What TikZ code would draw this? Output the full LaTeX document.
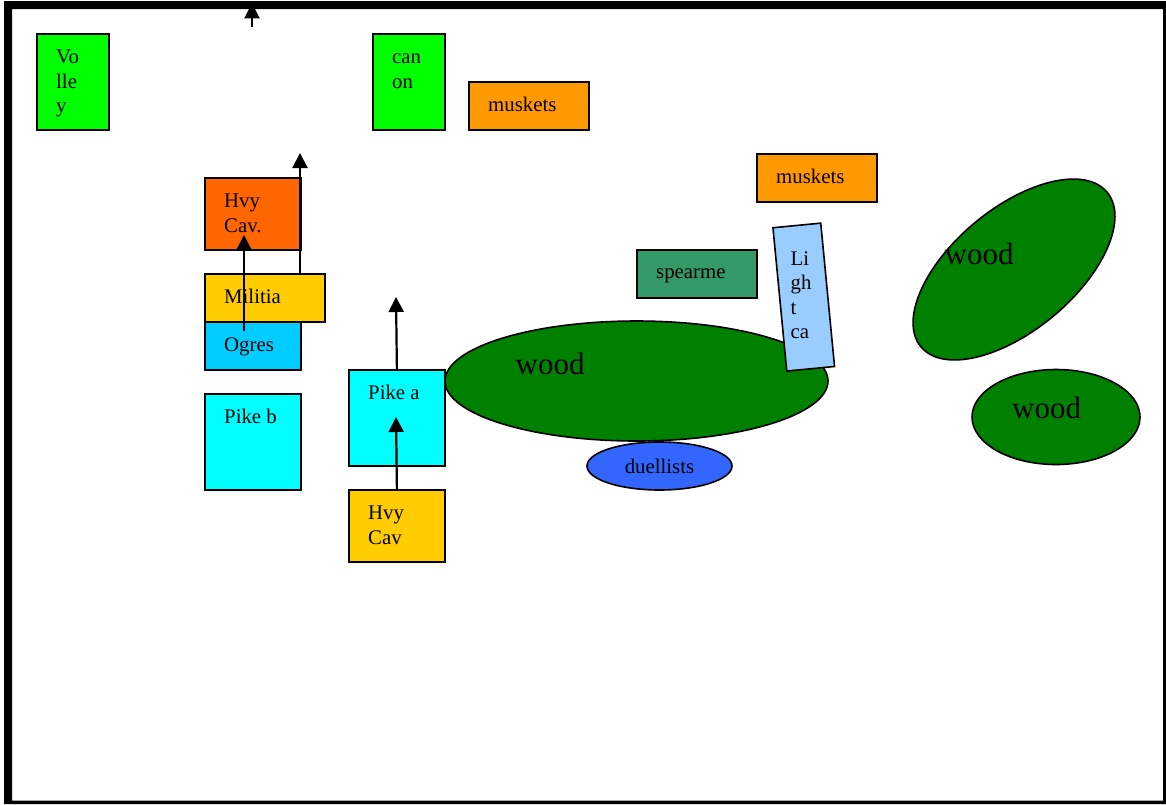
\documentclass[tikz,border=0pt]{standalone}
\usepackage{fontspec}
\setmainfont{Liberation Serif}
\usetikzlibrary{shapes.geometric,arrows.meta}
\definecolor{volleygreen}{HTML}{00FF00}
\definecolor{musketorange}{HTML}{FF9900}
\definecolor{cavorange}{HTML}{FF6600}
\definecolor{militiayellow}{HTML}{FFCC00}
\definecolor{ogreblue}{HTML}{00CCFF}
\definecolor{pikecyan}{HTML}{00FFFF}
\definecolor{woodgreen}{HTML}{008000}
\definecolor{duelblue}{HTML}{3366FF}
\definecolor{speargreen}{HTML}{339966}
\definecolor{lightblue}{HTML}{99CCFF}
\tikzset{unit/.style={rectangle,draw,line width=1.8pt,inner sep=0pt,anchor=north west},
  wd/.style={ellipse,draw,fill=woodgreen,line width=1.6pt,inner sep=0pt},
  lbl/.style={anchor=base west,inner sep=0pt,align=left,font=\fontsize{20.8}{24.5}\selectfont},
  woodlbl/.style={anchor=base west,inner sep=0pt,font=\fontsize{31}{36}\selectfont}}

\begin{document}
\begin{tikzpicture}[x=1pt,y=-1pt,>={Triangle[width=15pt,length=15pt]}]
    \useasboundingbox (0,0) rectangle (1166,804);
    \fill[white] (0,0) rectangle (1166,804);

    % units
    \node[unit,fill=volleygreen,minimum width=72,minimum height=96] (volley) at (36,33) {};
    \node[unit,fill=volleygreen,minimum width=72,minimum height=96] (canon) at (372,33) {};
    \node[unit,fill=musketorange,minimum width=120,minimum height=48] (musketsa) at (468,81) {};
    \node[unit,fill=musketorange,minimum width=120,minimum height=48] (musketsb) at (756,153) {};
    \node[unit,fill=cavorange,minimum width=96,minimum height=72] (hvycava) at (204,177) {};
    \node[unit,fill=militiayellow,minimum width=120,minimum height=48] (militia) at (204,273) {};
    \node[unit,fill=ogreblue,minimum width=96,minimum height=48] (ogres) at (204,321) {};
    \node[unit,fill=pikecyan,minimum width=96,minimum height=96] (pikeb) at (204,393) {};
    \node[unit,fill=pikecyan,minimum width=96,minimum height=96] (pikea) at (348,369) {};
    \node[unit,fill=militiayellow,minimum width=96,minimum height=72] (hvycavb) at (348,489) {};
    \node[unit,fill=speargreen,minimum width=120,minimum height=48] (spearme) at (636,249) {};

    % base of a multi-line label is its last line
    \node[lbl] (volleyt) at ([shift={(20,79.5)}]volley.north west) {Vo\\lle\\y};
    \node[lbl] (canont) at ([shift={(20,55)}]canon.north west) {can\\on};
    \node[lbl] (musketsat) at ([shift={(20,30.5)}]musketsa.north west) {muskets};
    \node[lbl] (musketsbt) at ([shift={(20,30.5)}]musketsb.north west) {muskets};
    \node[lbl] (hvycavat) at ([shift={(20,55)}]hvycava.north west) {Hvy\\Cav.};
    \node[lbl] (militiat) at ([shift={(20,30.5)}]militia.north west) {Militia};
    \node[lbl] (ogrest) at ([shift={(20,30.5)}]ogres.north west) {Ogres};
    \node[lbl] (pikebt) at ([shift={(20,30.5)}]pikeb.north west) {Pike b};
    \node[lbl] (pikeat) at ([shift={(20,30.5)}]pikea.north west) {Pike a};
    \node[lbl] (hvycavbt) at ([shift={(20,55)}]hvycavb.north west) {Hvy\\Cav};
    \node[lbl] (spearmet) at ([shift={(20,29.5)}]spearme.north west) {spearme};

    % woods
    \node[wd,minimum width=383,minimum height=120] (woodc) at (636.5,381) {};
    \node[wd,fill=duelblue,minimum width=145,minimum height=48,font=\fontsize{20.8}{24.5}\selectfont] (duel) at (659.5,466) {duellists};
    \node[rectangle,draw,fill=lightblue,line width=1.6pt,inner sep=0pt,minimum width=48,minimum height=144,rotate=5.5] (lightca) at (803.75,297.1) {};
    \node[wd,minimum width=242,minimum height=122,rotate=39.7] (woodne) at (1014,269.5) {};
    \node[wd,minimum width=168,minimum height=95] (woode) at (1056,417) {};

    \node[lbl] (lightcat) at (790.5,338.5) {Li\\gh\\t\\ca};
    \node[woodlbl] (woodct) at (515.5,374.3) {wood};
    \node[woodlbl] (woodnet) at (944.5,264.3) {wood};
    \node[woodlbl] (woodet) at (1012,418.3) {wood};

    % moves
    \coordinate (topstart) at (252,27);
    \coordinate (topend) at (252,3.3);
    \coordinate (milstart) at (300,273);
    \coordinate (milend) at (300,153);
    \coordinate (ogstart) at (244,331);
    \coordinate (ogend) at (244,235);
    \coordinate (pikeaend) at (396,297);
    \coordinate (pikeamid) at (396,417);

    \draw[->,line width=2.2pt] (topstart) -- (topend);
    \draw[->,line width=2.2pt] (milstart) -- (milend);
    \draw[->,line width=2.2pt] (ogstart) -- (ogend);
    \draw[->,line width=2.2pt] (pikea.north) -- (pikeaend);
    \draw[->,line width=2.2pt] (hvycavb.north) -- (pikeamid);

    % frame
    \fill[black,even odd rule] (4,1) rectangle (1166,804) (12,9) rectangle (1163,800.7);
\end{tikzpicture}
\end{document}
